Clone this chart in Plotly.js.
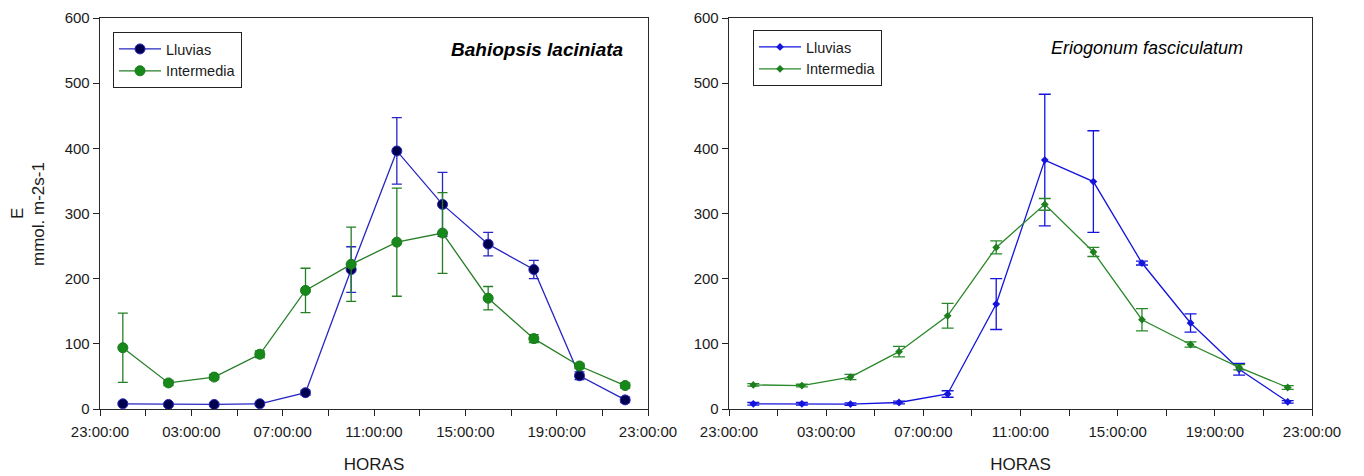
<!DOCTYPE html>
<html>
<head>
<meta charset="utf-8">
<script src="https://cdn.plot.ly/plotly-3.0.1.min.js"></script>
<style>
  html, body { margin: 0; padding: 0; background: #fff; }
  #chart { width: 1364px; height: 476px; }
</style>
</head>
<body>
<div id="chart"></div>
<script>
// Sampling hours (two-hour steps through one day)
const hours = ['00:00', '02:00', '04:00', '06:00', '08:00', '10:00',
               '12:00', '14:00', '16:00', '18:00', '20:00', '22:00'];

// Bahiopsis laciniata — transpiration E (mmol m-2 s-1)
const bahiopsisLluvias      = [8, 7, 7, 8, 25, 214, 396, 314, 253, 214, 51, 14];
const bahiopsisLluviasErr   = [2, 2, 2, 2, 4, 35, 51, 49, 18, 14, 6, 4];
const bahiopsisIntermedia    = [94, 40, 49, 84, 182, 222, 256, 270, 170, 108, 66, 36];
const bahiopsisIntermediaErr = [53, 4, 4, 5, 34, 57, 83, 62, 18, 6, 4, 4];

// Eriogonum fasciculatum — transpiration E (mmol m-2 s-1)
const eriogonumLluvias      = [8, 8, 7.5, 10, 23, 161, 382, 349, 224, 132, 61, 11];
const eriogonumLluviasErr   = [2, 2, 2, 2, 5, 39, 101, 78, 3, 14, 9, 2];
const eriogonumIntermedia    = [37, 36, 49, 88, 143, 248, 314, 241, 137, 99, 64, 33];
const eriogonumIntermediaErr = [2, 2, 4, 8, 19, 10, 9, 7, 17, 4, 4, 3];

const seriesNames = ['Lluvias', 'Intermedia'];
const speciesNames = ['Bahiopsis laciniata', 'Eriogonum fasciculatum'];
const xTitle = 'HORAS';
const yTitleLines = ['E', 'mmol. m-2s-1'];

// Hours placed on a one-day time axis that starts at 23:00 the evening before
const xs = hours.map(h => '2000-01-01 ' + h);
const dayStart = '1999-12-31 23:00';
const dayEnd = '2000-01-01 23:00';

const FONT = 'Liberation Sans, Arial, sans-serif';
const BLUE_L = '#2626c4', GREEN_L = '#267f26';
const BLUE_R = '#1414dc', GREEN_R = '#2a882a';

function series(x, y, err, name, color, xa, ya, legend, marker, cap) {
  return {
    type: 'scatter', mode: 'lines+markers', x: x, y: y, name: name,
    xaxis: xa, yaxis: ya, legend: legend,
    line: { color: color, width: 1.3 },
    marker: marker,
    error_y: { type: 'data', array: err, visible: true, color: color, thickness: 1.3, width: cap }
  };
}

const traces = [
  series(xs, bahiopsisLluvias, bahiopsisLluviasErr, seriesNames[0], BLUE_L, 'x', 'y', 'legend',
    { symbol: 'circle', size: 10, color: '#00004e', line: { color: '#2a2ab8', width: 1 } }, 5),
  series(xs, bahiopsisIntermedia, bahiopsisIntermediaErr, seriesNames[1], GREEN_L, 'x', 'y', 'legend',
    { symbol: 'circle', size: 10, color: '#16891a', line: { color: '#1a7a1a', width: 1 } }, 5),
  series(xs, eriogonumLluvias, eriogonumLluviasErr, seriesNames[0], BLUE_R, 'x2', 'y2', 'legend2',
    { symbol: 'diamond', size: 6, color: BLUE_R, line: { width: 0 } }, 6),
  series(xs, eriogonumIntermedia, eriogonumIntermediaErr, seriesNames[1], GREEN_R, 'x2', 'y2', 'legend2',
    { symbol: 'diamond', size: 6, color: '#1d7f1d', line: { width: 0 } }, 6)
];

const H = 476, W = 1364;
const yDom = [1 - 409 / H, 1 - 18 / H];
const TEXT = '#1a1a1a';

function xAxis(domain, anchor) {
  return {
    type: 'date', domain: domain, anchor: anchor,
    range: [dayStart, dayEnd],
    tick0: dayStart, dtick: 4 * 3600000, tickformat: '%H:%M:%S',
    ticks: 'outside', ticklen: 6, tickcolor: '#222', tickwidth: 1,
    ticklabelstandoff: 3,
    minor: { tick0: dayStart, dtick: 2 * 3600000, ticks: 'outside', ticklen: 6, tickcolor: '#222', tickwidth: 1, showgrid: false },
    showline: true, mirror: true, linecolor: '#2a2a2a', linewidth: 1.3,
    showgrid: false, zeroline: false,
    tickfont: { family: FONT, size: 15, color: TEXT },
    title: { text: xTitle, font: { family: FONT, size: 17, color: TEXT }, standoff: 18 }
  };
}

function yAxis(anchor) {
  return {
    domain: yDom, anchor: anchor, range: [0, 600], dtick: 100,
    ticks: 'outside', ticklen: 6, tickcolor: '#222', tickwidth: 1,
    showline: true, mirror: true, linecolor: '#2a2a2a', linewidth: 1.3,
    showgrid: false, zeroline: false,
    tickfont: { family: FONT, size: 15, color: TEXT }
  };
}

const legendStyle = (x, y) => ({
  x: x, y: y, xanchor: 'left', yanchor: 'top',
  bgcolor: '#fff', bordercolor: '#222', borderwidth: 1,
  font: { family: FONT, size: 14.5, color: TEXT },
  itemwidth: 42, tracegroupgap: 0
});

// Two-line y-axis label, stacked side by side when rotated
const yTitleNotes = yTitleLines.map((t, i) => ({
  xref: 'paper', yref: 'paper', x: [18, 39][i] / W, y: 1 - 214 / H,
  xanchor: 'center', yanchor: 'middle', textangle: -90, showarrow: false,
  text: t, font: { family: FONT, size: 17, color: TEXT }
}));

const layout = {
  width: W, height: H,
  margin: { l: 0, r: 0, t: 0, b: 0 },
  paper_bgcolor: '#fff', plot_bgcolor: '#fff',
  showlegend: true,
  xaxis: xAxis([100 / W, 648 / W], 'y'),
  yaxis: yAxis('x'),
  xaxis2: xAxis([729 / W, 1312 / W], 'y2'),
  yaxis2: yAxis('x2'),
  legend: legendStyle(113 / W, 1 - 32 / H),
  legend2: legendStyle(753 / W, 1 - 30 / H),
  annotations: yTitleNotes.concat([
    { xref: 'paper', yref: 'paper', x: 626 / W, y: 1 - 50 / H, xanchor: 'right', yanchor: 'middle',
      text: '<b><i>' + speciesNames[0] + '</i></b>', showarrow: false,
      font: { family: FONT, size: 19, color: '#000' } },
    { xref: 'paper', yref: 'paper', x: 1147 / W, y: 1 - 48 / H, xanchor: 'center', yanchor: 'middle',
      text: '<i>' + speciesNames[1] + '</i>', showarrow: false,
      font: { family: FONT, size: 18, color: '#000' } }
  ])
};

Plotly.newPlot('chart', traces, layout, { staticPlot: true, displayModeBar: false });
</script>
</body>
</html>
